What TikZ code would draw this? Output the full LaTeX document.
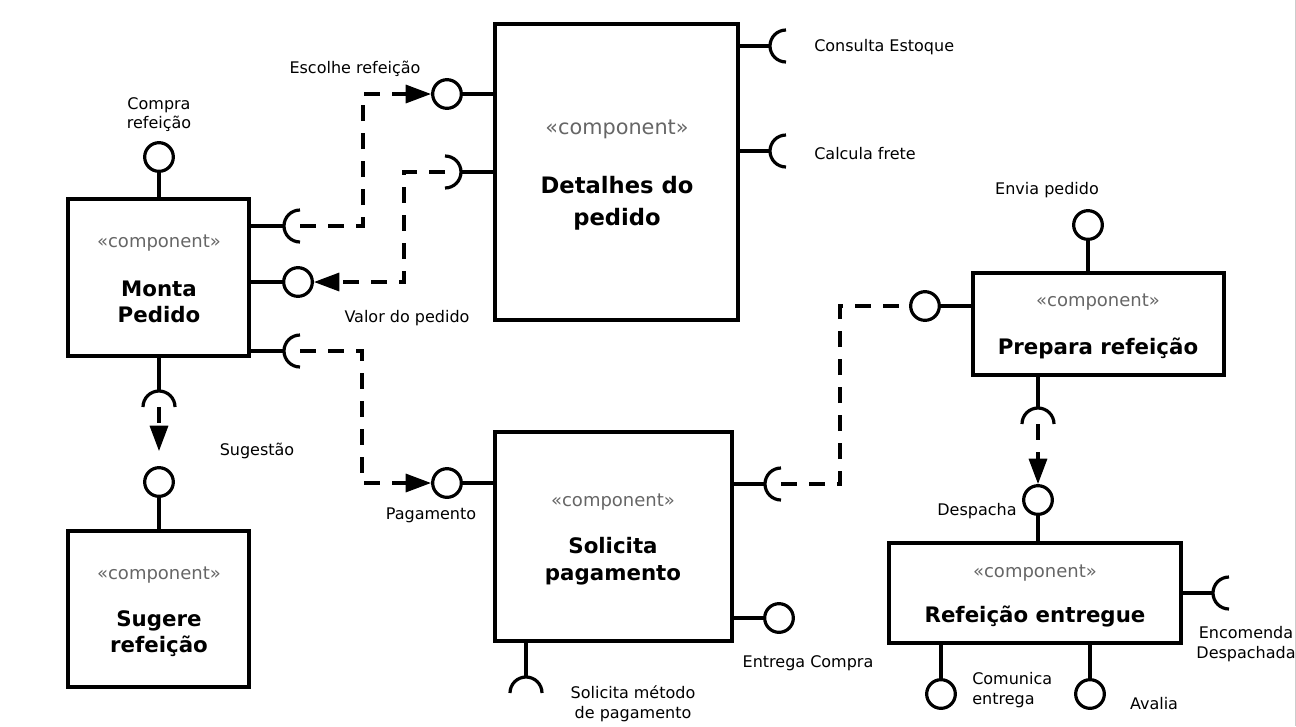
\documentclass[tikz,border=0pt]{standalone}
\usepackage{fontspec}
\setmainfont{DejaVu Sans}
\usetikzlibrary{arrows.meta,calc}
\begin{document}
\begin{tikzpicture}[x=0.75pt,y=-0.75pt,
  box/.style={draw, line width=2.4pt, rectangle, inner sep=0pt},
  iface/.style={draw, circle, line width=2.4pt, minimum size=21.5pt, inner sep=0pt},
  wire/.style={line width=2.4pt},
  dep/.style={line width=2.4pt, dash pattern=on 12pt off 9pt},
  arr/.style={-{Triangle[length=19pt,width=13.5pt]}},
  lbl/.style={font=\fontsize{12}{15}\selectfont, align=center, inner sep=0pt, yshift=-1.5pt},
  stereo/.style={font=\fontsize{13.5}{16}\selectfont, text=black!60, inner sep=0pt, yshift=-1.5pt},
  title/.style={font=\fontsize{16}{19.5}\selectfont\bfseries, align=center, inner sep=0pt, yshift=-1.5pt}]
\useasboundingbox (0,0) rectangle (1296,726);
\draw[black!20, line width=0.75pt] (1295,0) -- (1295,726);

% ---------- components ----------
\node[box, minimum width={181*0.75pt}, minimum height={157*0.75pt}] (monta) at (158.5,277.5) {};
\node[stereo] (montaS) at (159,241) {«component»};
\node[title] (montaT) at (159,300) {Monta\\Pedido};

\node[box, minimum width={181*0.75pt}, minimum height={156*0.75pt}] (sug) at (158.5,609) {};
\node[stereo] (sugS) at (159,573) {«component»};
\node[title] (sugT) at (159,631.5) {Sugere\\refeição};

\node[box, minimum width={243*0.75pt}, minimum height={296*0.75pt}] (det) at (616.5,172) {};
\node[stereo, font=\fontsize{15.6}{18}\selectfont] (detS) at (617,127) {«component»};
\node[title, font=\fontsize{17}{24}\selectfont\bfseries] (detT) at (617,201) {Detalhes do\\pedido};

\node[box, minimum width={237*0.75pt}, minimum height={209*0.75pt}] (sol) at (613.5,536.5) {};
\node[stereo] (solS) at (613,500) {«component»};
\node[title, font=\fontsize{16}{20.25}\selectfont\bfseries] (solT) at (613,559.5) {Solicita\\pagamento};

\node[box, minimum width={251*0.75pt}, minimum height={102*0.75pt}] (prep) at (1098.5,324) {};
\node[stereo] (prepS) at (1098,300) {«component»};
\node[title] (prepT) at (1098,346) {Prepara refeição};

\node[box, minimum width={292*0.75pt}, minimum height={100*0.75pt}] (ent) at (1035,593) {};
\node[stereo] (entS) at (1035,571) {«component»};
\node[title] (entT) at (1035,614) {Refeição entregue};

% ---------- Monta Pedido interfaces ----------
\node[iface] (iCompra) at (159,157) {};
\draw[wire] (iCompra.south) -- (iCompra.south |- monta.north);
\node[lbl, font=\fontsize{12}{14.25}\selectfont] (lCompra) at (159,112.5) {Compra\\refeição};

\coordinate (sM1) at (300,226);
\draw[wire] (sM1 -| monta.east) -- ($(sM1)+(-16,0)$);
\draw[wire] ($(sM1)+(0,-16)$) arc[start angle=270, end angle=90, radius=16];

\node[iface] (iVal) at (298,282) {};
\draw[wire] (iVal.west -| monta.east) -- (iVal.west);

\coordinate (sM2) at (300,351);
\draw[wire] (sM2 -| monta.east) -- ($(sM2)+(-16,0)$);
\draw[wire] ($(sM2)+(0,-16)$) arc[start angle=270, end angle=90, radius=16];

\coordinate (sSugS) at (159,407);
\draw[wire] (sSugS |- monta.south) -- ($(sSugS)+(0,-16)$);
\draw[wire] ($(sSugS)+(-16,0)$) arc[start angle=180, end angle=360, radius=16];

\node[iface] (iSug) at (159,482) {};
\draw[wire] (iSug.south) -- (iSug.south |- sug.north);
\node[lbl] (lSug) at (257,449) {Sugestão};

% ---------- Detalhes do pedido interfaces ----------
\node[iface] (iEsc) at (447,94) {};
\draw[wire] (iEsc.east) -- (iEsc.east -| det.west);
\node[lbl] (lEsc) at (355,67) {Escolhe refeição};

\coordinate (sD2) at (445,172);
\draw[wire] ($(sD2)+(16,0)$) -- (sD2 -| det.west);
\draw[wire] ($(sD2)+(0,-16)$) arc[start angle=-90, end angle=90, radius=16];
\node[lbl] (lVal) at (407,316) {Valor do pedido};

\coordinate (sCE) at (786,46);
\draw[wire] (sCE -| det.east) -- ($(sCE)+(-16,0)$);
\draw[wire] ($(sCE)+(0,-16)$) arc[start angle=270, end angle=90, radius=16];
\node[lbl, anchor=west] (lCE) at (814,45) {Consulta Estoque};

\coordinate (sCF) at (786,151);
\draw[wire] (sCF -| det.east) -- ($(sCF)+(-16,0)$);
\draw[wire] ($(sCF)+(0,-16)$) arc[start angle=270, end angle=90, radius=16];
\node[lbl, anchor=west] (lCF) at (814,152) {Calcula frete};

% ---------- Solicita pagamento interfaces ----------
\node[iface] (iPag) at (447,483) {};
\draw[wire] (iPag.east) -- (iPag.east -| sol.west);
\node[lbl] (lPag) at (431,513) {Pagamento};

\coordinate (sSol) at (781,484);
\draw[wire] (sSol -| sol.east) -- ($(sSol)+(-16,0)$);
\draw[wire] ($(sSol)+(0,-16)$) arc[start angle=270, end angle=90, radius=16];

\node[iface] (iEnt) at (779,618) {};
\draw[wire] (iEnt.west -| sol.east) -- (iEnt.west);
\node[lbl] (lEnt) at (808,661) {Entrega Compra};

\coordinate (sSM) at (526,693);
\draw[wire] (sSM |- sol.south) -- ($(sSM)+(0,-16)$);
\draw[wire] ($(sSM)+(-16,0)$) arc[start angle=180, end angle=360, radius=16];
\node[lbl] (lSM) at (633,702) {Solicita método\\de pagamento};

% ---------- Prepara refeição interfaces ----------
\node[iface] (iEnv) at (1088,225) {};
\draw[wire] (iEnv.south) -- (iEnv.south |- prep.north);
\node[lbl] (lEnv) at (1047,188) {Envia pedido};

\node[iface] (iPrep) at (925,306) {};
\draw[wire] (iPrep.east) -- (iPrep.east -| prep.west);

\coordinate (sPrep) at (1038,424);
\draw[wire] (sPrep |- prep.south) -- ($(sPrep)+(0,-16)$);
\draw[wire] ($(sPrep)+(-16,0)$) arc[start angle=180, end angle=360, radius=16];

% ---------- Refeição entregue interfaces ----------
\node[iface] (iDesp) at (1038,500) {};
\draw[wire] (iDesp.south) -- (iDesp.south |- ent.north);
\node[lbl] (lDesp) at (977,509) {Despacha};

\coordinate (sEnc) at (1229,593);
\draw[wire] (sEnc -| ent.east) -- ($(sEnc)+(-16,0)$);
\draw[wire] ($(sEnc)+(0,-16)$) arc[start angle=270, end angle=90, radius=16];
\node[lbl] (lEnc) at (1246,642) {Encomenda\\Despachada};

\node[iface] (iCom) at (941,694) {};
\draw[wire] (iCom.north |- ent.south) -- (iCom.north);
\node[lbl, anchor=west, align=left] (lCom) at (972,688) {Comunica\\entrega};

\node[iface] (iAva) at (1090,694) {};
\draw[wire] (iAva.north |- ent.south) -- (iAva.north);
\node[lbl] (lAva) at (1154,702) {Avalia};

% ---------- dependencies ----------
\draw[dep, arr] (sM1) -- ++(63,0) |- (iEsc.west);
\draw[dep, arr] (sD2) -- ++(-41,0) |- (iVal.east);
\draw[dep, arr] (sM2) -- ++(62,0) |- (iPag.west);
\draw[dep, arr] (sSugS) -- ([yshift=11.25pt]iSug.north);
\draw[dep] (sSol) -- ++(59,0) |- (iPrep.west);
\draw[dep, arr] (sPrep) -- (iDesp.north);
\end{tikzpicture}
\end{document}
